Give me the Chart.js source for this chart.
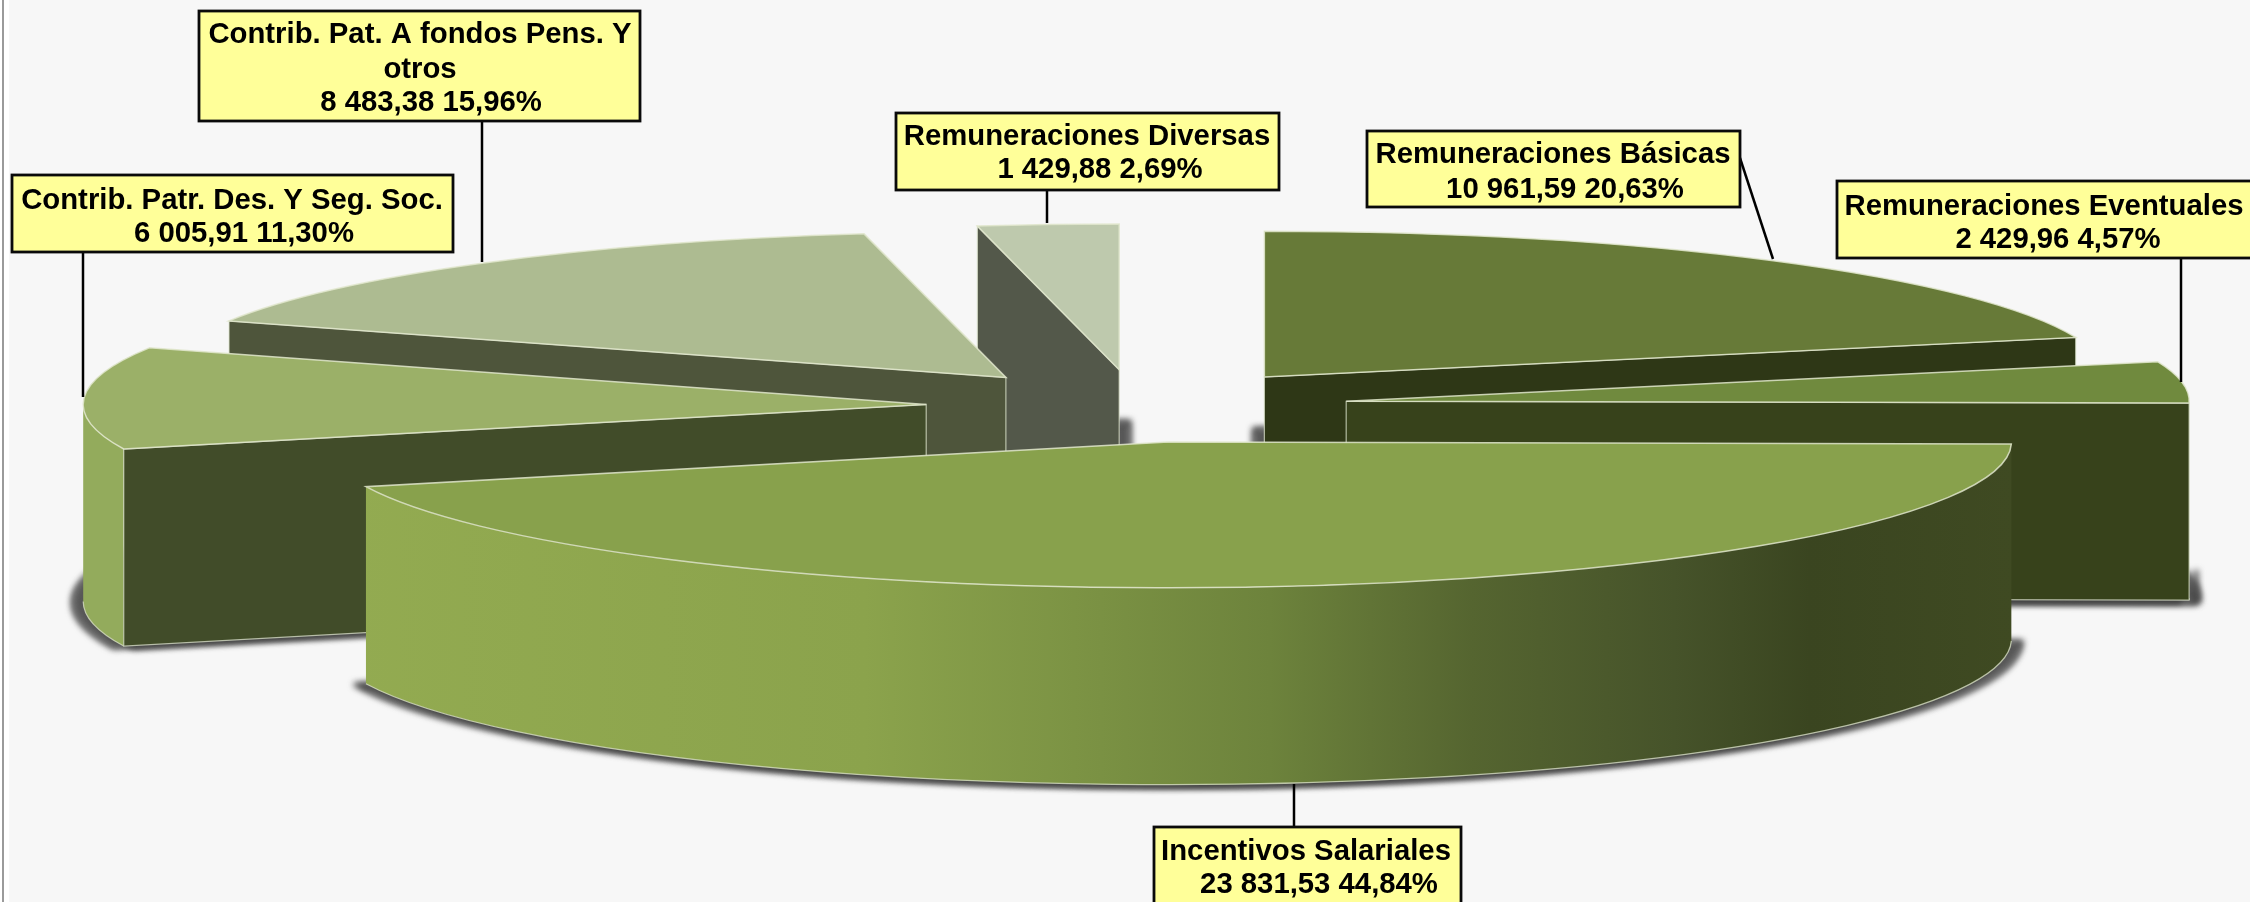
<!DOCTYPE html>
<html>
<head>
<meta charset="utf-8">
<style>html,body{margin:0;padding:0;background:#f7f7f7}canvas{display:block}</style>
<script src="https://cdn.jsdelivr.net/npm/chart.js@4/dist/chart.umd.js"></script>
</head>
<body>
<canvas id="c" width="2250" height="902"></canvas>
<script>
const categories = ["Remuneraciones Básicas","Remuneraciones Eventuales","Incentivos Salariales","Contrib. Patr. Des. Y Seg. Soc.","Contrib. Pat. A fondos Pens. Y otros","Remuneraciones Diversas"];
const values = [10961.59,2429.96,23831.53,6005.91,8483.38,1429.88];
const percents = ["20,63%","4,57%","44,84%","11,30%","15,96%","2,69%"];
const drawOrder = [5,4,0,3,1,2];
const topColors = ["#677a38","#708a3e","#88a14c","#9bb068","#adbb91","#bec9ad"];
const wallColors = ["#2e3716","#37421b","#3a4520","#414c29","#4e553b","#53584a"];
const outerColors = ["#4a5a26","#4f6029",null,"#93ab5c","#7f8c68","#8b947c"];

const radiusPx = 843, explode = 211, squash = 146/845, depth = 197;

// label layout: box [x0,y0,x1,y1], text line centres, leader line
const labelLayout = [
 {box:[1367,131,1740,207], lines:[[1553,153],[1565,188]], leader:[1740,158,1773,259]},
 {box:[1837,181,2254,258], lines:[[2044,205],[2058,238]], leader:[2181,258,2181,382]},
 {box:[1154,827,1461,920], lines:[[1306,850],[1319,883]], leader:[1294,784,1294,827]},
 {box:[12,175,453,252], lines:[[232,199],[244,232]], leader:[83,252,83,397]},
 {box:[199,11,640,121], lines:[[420,33],[420,68],[431,101]], leader:[482,121,482,262]},
 {box:[896,113,1279,190], lines:[[1087,135],[1100,168]], leader:[1047,190,1047,223]}
];
const wrapped = {4:["Contrib. Pat. A fondos Pens. Y","otros"]};

function fmt(v){
  const [a,b]=v.toFixed(2).split('.');
  return a.replace(/\B(?=(\d{3})+$)/g,' ')+','+b;
}

function geom(arc){
  const a1=arc.startAngle,a2=arc.endAngle,mid=(a1+a2)/2;
  const ax=arc.x+Math.cos(mid)*explode, ay=arc.y+Math.sin(mid)*explode*squash;
  const rx=arc.outerRadius, ry=arc.outerRadius*squash;
  return {a1,a2,mid,ax,ay,rx,ry};
}
function facePath(ctx,g,dx,dy){
  ctx.beginPath();
  ctx.moveTo(g.ax+dx,g.ay+dy);
  ctx.ellipse(g.ax+dx,g.ay+dy,g.rx,g.ry,0,g.a1,g.a2);
  ctx.closePath();
}
function pt(g,a,dy){return [g.ax+g.rx*Math.cos(a),g.ay+g.ry*Math.sin(a)+(dy||0)];}
function radialWall(ctx,g,a,fill){
  const p=pt(g,a);
  ctx.beginPath();
  ctx.moveTo(g.ax,g.ay);ctx.lineTo(p[0],p[1]);ctx.lineTo(p[0],p[1]+depth);ctx.lineTo(g.ax,g.ay+depth);ctx.closePath();
  ctx.fillStyle=fill;ctx.fill();
  ctx.strokeStyle='rgba(222,228,205,.75)';ctx.lineWidth=1.2;ctx.stroke();
}
function wallShadow(ctx,g,a){
  const p=pt(g,a,depth), side=Math.sign(Math.cos(a));
  ctx.beginPath();
  ctx.moveTo(g.ax,g.ay+depth+3);
  ctx.lineTo(p[0]+side*7,p[1]+3);
  ctx.lineTo(p[0]+side*7,p[1]-30);
  ctx.stroke();
}
function outerWall(ctx,g,fill){
  const ranges=[[0,Math.PI],[2*Math.PI,3*Math.PI],[-2*Math.PI,-Math.PI]];
  ranges.forEach(([lo,hi])=>{
    const s=Math.max(g.a1,lo),e=Math.min(g.a2,hi);
    if(e<=s)return;
    ctx.beginPath();
    ctx.ellipse(g.ax,g.ay,g.rx,g.ry,0,s,e);
    ctx.ellipse(g.ax,g.ay+depth,g.rx,g.ry,0,e,s,true);
    ctx.closePath();
    ctx.fillStyle=fill;ctx.fill();
    ctx.beginPath();
    ctx.ellipse(g.ax,g.ay+depth,g.rx,g.ry,0,e,s,true);
    ctx.strokeStyle='rgba(215,222,195,.8)';ctx.lineWidth=1.2;ctx.stroke();
  });
}
const pie3d = {
  id:'pie3d',
  beforeDraw(chart){
    const ctx=chart.ctx;
    ctx.save();
    ctx.fillStyle='#f7f7f7';ctx.fillRect(0,0,2250,902);
    ctx.fillStyle='#ffffff';ctx.fillRect(0,0,9,902);
    ctx.fillStyle='#9a9a9a';ctx.fillRect(2,0,2,902);
    ctx.restore();
  },
  beforeDatasetDraw(chart,args){
    const ctx=chart.ctx, arcs=args.meta.data;
    drawOrder.forEach(i=>{
      const arc=arcs[i], g=geom(arc);
      ctx.save();
      ctx.filter='blur(3px)';
      ctx.fillStyle='rgba(60,60,60,.85)';
      ctx.strokeStyle='rgba(60,60,60,.85)';ctx.lineWidth=5;ctx.lineJoin='round';
      [-10,10].forEach(dx=>{facePath(ctx,g,dx,depth+1);ctx.fill();ctx.stroke();});
      if(Math.cos(g.a2)>1e-6) wallShadow(ctx,g,g.a2);
      ctx.restore();
    });
    drawOrder.forEach(i=>{
      const arc=arcs[i], g=geom(arc);
      ctx.save();
      let fill=outerColors[i];
      if(i===2){
        const gr=ctx.createLinearGradient(g.ax-g.rx,0,g.ax+g.rx,0);
        [[0,'#93ab51'],[.32,'#8ba34c'],[.46,'#7a9143'],[.56,'#6d833c'],[.68,'#556530'],[.8,'#46532a'],[.88,'#3a4520'],[1,'#3f4a22']]
          .forEach(s=>gr.addColorStop(s[0],s[1]));
        fill=gr;
      }
      outerWall(ctx,g,fill);
      if(Math.cos(g.a1)<-1e-6) radialWall(ctx,g,g.a1,wallColors[i]);
      if(Math.cos(g.a2)>1e-6) radialWall(ctx,g,g.a2,wallColors[i]);
      ctx.save();
      ctx.translate(g.ax,g.ay);
      ctx.scale(1,squash);
      ctx.translate(-arc.x,-arc.y);
      arc.draw(ctx);
      ctx.restore();
      facePath(ctx,g,0,0);
      ctx.strokeStyle='rgba(224,230,205,.85)';ctx.lineWidth=1.5;ctx.stroke();
      ctx.restore();
    });
    return false;
  },
  afterDraw(chart){
    const ctx=chart.ctx;
    ctx.save();
    labelLayout.forEach((l,i)=>{
      ctx.strokeStyle='#000';ctx.lineWidth=2.5;
      ctx.beginPath();ctx.moveTo(l.leader[0],l.leader[1]);ctx.lineTo(l.leader[2],l.leader[3]);ctx.stroke();
      const [x0,y0,x1,y1]=l.box;
      ctx.fillStyle='#ffff99';ctx.fillRect(x0,y0,x1-x0,y1-y0);
      ctx.strokeStyle='#0a0a0a';ctx.lineWidth=2.8;ctx.strokeRect(x0,y0,x1-x0,y1-y0);
      const txt=(wrapped[i]||[categories[i]]).concat([fmt(values[i])+' '+percents[i]]);
      ctx.fillStyle='#000';
      ctx.font='bold 29.3px "Liberation Sans", Arial, sans-serif';
      ctx.textAlign='center';ctx.textBaseline='middle';
      txt.forEach((t,k)=>ctx.fillText(t,l.lines[k][0],l.lines[k][1]+1.5));
    });
    ctx.restore();
  }
};
new Chart(document.getElementById('c'),{
  type:'pie',
  data:{labels:categories,datasets:[{data:values,backgroundColor:topColors,borderWidth:0,radius:radiusPx}]},
  options:{
    responsive:false,animation:false,events:[],
    layout:{padding:{left:24,bottom:90}},
    plugins:{legend:{display:false},tooltip:{enabled:false},title:{display:false}}
  },
  plugins:[pie3d]
});
</script>
</body>
</html>
